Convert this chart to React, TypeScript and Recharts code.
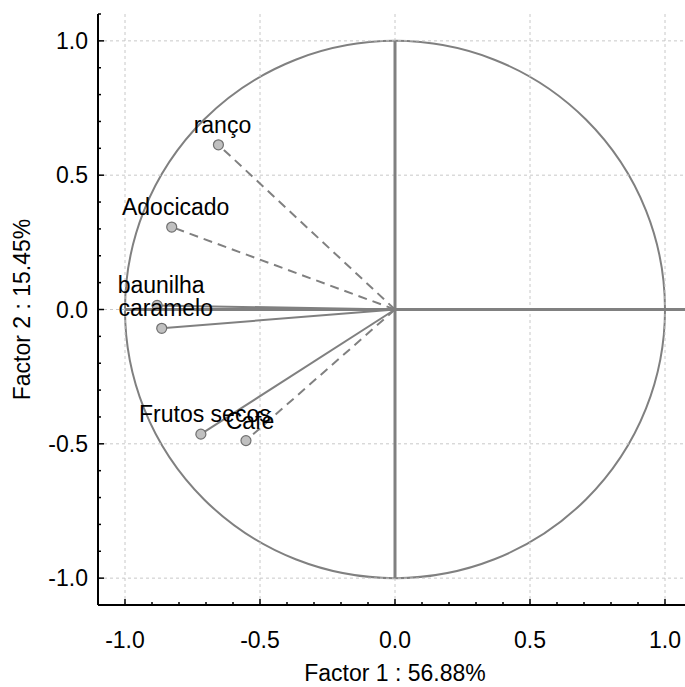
import React from 'react';
import { ComposedChart, XAxis, YAxis, Scatter, ReferenceLine, ReferenceArea, LabelList } from 'recharts';

// correlation circle: loadings on the first two factors
const variables = ['ranço', 'Adocicado', 'baunilha', 'caramelo', 'Frutos secos', 'Café'];
const factor1 = [-0.654, -0.827, -0.881, -0.864, -0.719, -0.552];
const factor2 = [0.613, 0.307, 0.015, -0.07, -0.464, -0.488];
const dashedVector = [true, true, false, false, false, true];

const majorTicks = [-1, -0.5, 0, 0.5, 1];
const minorTicks = [-1.1, -1, -0.9, -0.8, -0.7, -0.6, -0.5, -0.4, -0.3, -0.2, -0.1, 0, 0.1, 0.2, 0.3, 0.4, 0.5, 0.6, 0.7, 0.8, 0.9, 1, 1.1];
const tickLabels = ['-1.0', '-0.5', '0.0', '0.5', '1.0'];

const FONT = '"Liberation Sans", Arial, sans-serif';
const GRAY = '#808080';

const points = variables.map((name, i) => ({ name, x: factor1[i], y: factor2[i] }));

const labelFor = (v: number) => {
  const idx = majorTicks.findIndex(t => Math.abs(t - v) < 1e-6);
  return idx >= 0 ? tickLabels[idx] : null;
};

const BottomTick = (props: any) => {
  const { x, y, payload } = props;
  const label = labelFor(payload.value);
  return (
    <g>
      <line x1={x} y1={y} x2={x} y2={y - (label ? 6 : 3)} stroke="#000" strokeWidth={1.5} />
      {label && (
        <text x={x} y={y + 43} textAnchor="middle" fontSize={23} fontFamily={FONT} fill="#000">{label}</text>
      )}
    </g>
  );
};

const TopTick = (props: any) => {
  const { x, y, payload } = props;
  const label = labelFor(payload.value);
  return <line x1={x} y1={y} x2={x} y2={y + (label ? 6 : 3)} stroke="#000" strokeWidth={1.5} />;
};

const LeftTick = (props: any) => {
  const { x, y, payload } = props;
  const label = labelFor(payload.value);
  return (
    <g>
      <line x1={x} y1={y} x2={x + (label ? 6 : 3)} y2={y} stroke="#000" strokeWidth={1.5} />
      {label && (
        <text x={x - 10} y={y + 8} textAnchor="end" fontSize={23} fontFamily={FONT} fill="#000">{label}</text>
      )}
    </g>
  );
};

const XTitle = (props: any) => {
  const { x, y, width } = props.viewBox;
  return (
    <text x={x + width / 2} y={y + 76} textAnchor="middle" fontSize={23} fontFamily={FONT} fill="#000">
      Factor 1 : 56.88%
    </text>
  );
};

const YTitle = (props: any) => {
  const { y, height } = props.viewBox;
  const cy = y + height / 2;
  return (
    <text x={30} y={cy} transform={`rotate(-90, 30, ${cy})`} textAnchor="middle" fontSize={23} fontFamily={FONT} fill="#000">
      Factor 2 : 15.45%
    </text>
  );
};

const PointLabel = (props: any) => {
  const { x, y, width, height, value } = props;
  const cx = x + width / 2;
  const cy = y + height / 2;
  return (
    <text x={cx + 4} y={cy - 12} textAnchor="middle" fontSize={23} fontFamily={FONT} fill="#000">{value}</text>
  );
};

const Dot = (props: any) => <circle cx={props.cx} cy={props.cy} r={5} fill="#c0c0c0" stroke="#707070" strokeWidth={1.2} />;

const UnitCircle = (props: any) => {
  const { x, y, width, height } = props;
  return <ellipse cx={x + width / 2} cy={y + height / 2} rx={width / 2} ry={height / 2} fill="none" stroke={GRAY} strokeWidth={2} />;
};

export default function App() {
  return (
    <div style={{ position: 'fixed', left: 0, top: 0, width: 685, height: 687, overflow: 'hidden', background: '#fff' }}>
      <ComposedChart width={700} height={687} margin={{ top: 14, right: 8, bottom: 0, left: 0 }}>
        <XAxis
          type="number" dataKey="x" domain={[-1.1, 1.1]} ticks={minorTicks} interval={0}
          tickSize={0} tickMargin={0} height={82} tick={<BottomTick />} tickLine={false}
          axisLine={{ stroke: '#000', strokeWidth: 2 }} allowDataOverflow label={<XTitle />}
        />
        <XAxis
          xAxisId="top" orientation="top" type="number" domain={[-1.1, 1.1]} ticks={minorTicks} interval={0}
          tickSize={0} tickMargin={0} height={0} tick={<TopTick />} tickLine={false}
          axisLine={{ stroke: '#000', strokeWidth: 2 }} allowDataOverflow
        />
        <YAxis
          type="number" dataKey="y" domain={[-1.1, 1.1]} ticks={minorTicks} interval={0}
          tickSize={0} tickMargin={0} width={98} tick={<LeftTick />} tickLine={false}
          axisLine={{ stroke: '#000', strokeWidth: 2 }} allowDataOverflow label={<YTitle />}
        />

        {majorTicks.map(v => (
          <ReferenceLine key={`gx${v}`} x={v} stroke="#c8c8c8" strokeDasharray="3 3" />
        ))}
        {majorTicks.map(v => (
          <ReferenceLine key={`gy${v}`} y={v} stroke="#c8c8c8" strokeDasharray="3 3" />
        ))}

        <ReferenceArea x1={-1} x2={1} y1={-1} y2={1} shape={<UnitCircle />} />

        <ReferenceLine segment={[{ x: -1, y: 0 }, { x: 1.1, y: 0 }]} stroke={GRAY} strokeWidth={3} />
        <ReferenceLine segment={[{ x: 0, y: -1 }, { x: 0, y: 1 }]} stroke={GRAY} strokeWidth={3} />

        {points.map((p, i) => (
          <ReferenceLine
            key={p.name}
            segment={[{ x: 0, y: 0 }, { x: p.x, y: p.y }]}
            stroke={GRAY}
            strokeWidth={2}
            strokeDasharray={dashedVector[i] ? '9 6' : undefined}
          />
        ))}

        <Scatter data={points} shape={<Dot />} isAnimationActive={false}>
          <LabelList dataKey="name" content={<PointLabel />} />
        </Scatter>
      </ComposedChart>
    </div>
  );
}
